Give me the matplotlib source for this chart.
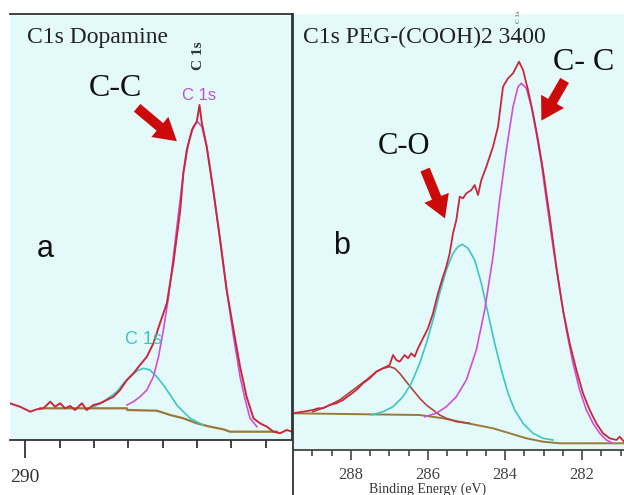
import matplotlib
matplotlib.use("Agg")
import matplotlib.pyplot as plt
from matplotlib.patches import FancyArrowPatch
from matplotlib.lines import Line2D

W, H = 624, 495

# ---------------- Panel a : C1s Dopamine ----------------
a_data_ev = [290.44, 290.15, 289.85, 289.66, 289.47, 289.27, 289.13, 288.98, 288.84, 288.69,
             288.55, 288.35, 288.21, 288.01, 287.82, 287.63, 287.43, 287.24, 287.04, 286.85,
             286.66, 286.46, 286.27, 286.08, 285.88, 285.69, 285.49, 285.40, 285.30, 285.15,
             285.01, 284.93, 284.86, 284.72, 284.53, 284.33, 284.14, 283.94, 283.75, 283.56,
             283.36, 283.17, 282.97, 282.78, 282.59, 282.39, 282.24]
a_data_i = [36.7, 33.3, 28.3, 30.7, 31.7, 38.3, 33.3, 36.7, 31.7, 34.0,
            30.0, 36.7, 30.0, 35.0, 36.7, 40.0, 43.3, 50.0, 60.0, 66.7,
            75.0, 83.3, 96.7, 116.7, 136.7, 176.7, 230.0, 266.7, 290.0, 310.0,
            318.3, 335.0, 316.7, 293.3, 250.0, 200.0, 150.0, 110.0, 73.3, 43.3,
            21.7, 16.7, 13.3, 8.3, 6.7, 10.0, 8.3]

a_cc_ev = [287.04, 286.85, 286.66, 286.46, 286.27, 286.12, 285.98, 285.83, 285.69, 285.54,
           285.40, 285.25, 285.11, 284.99, 284.86, 284.72, 284.53, 284.33, 284.14, 283.94,
           283.75, 283.60, 283.46, 283.26]
a_cc_i = [35.0, 38.3, 43.3, 50.0, 63.3, 83.3, 110.0, 143.3, 183.3, 226.7,
          266.7, 296.7, 313.3, 318.3, 313.3, 293.3, 250.0, 200.0, 150.0, 103.3,
          63.3, 40.0, 21.7, 13.3]

a_co_ev = [288.01, 287.72, 287.53, 287.33, 287.14, 286.95, 286.75, 286.56, 286.37, 286.17,
           285.98, 285.78, 285.59, 285.40, 285.20, 285.01, 284.82]
a_co_i = [33.3, 38.3, 43.3, 48.3, 56.7, 63.3, 69.0, 71.7, 70.0, 63.3,
          55.0, 45.0, 35.0, 28.3, 21.7, 18.3, 15.0]

a_bg_ev = [289.56, 287.04, 287.03, 286.17, 285.78, 285.40, 285.01, 284.62, 284.24, 284.04, 282.68]
a_bg_i = [31.7, 31.7, 30.0, 29.3, 25.0, 21.7, 16.7, 13.3, 10.7, 8.3, 8.3]

a_major_ticks = [290]
a_minor_ticks = [289, 288, 287, 286, 285, 284, 283]
a_tick_labels = ["290"]

# ---------------- Panel b : C1s PEG-(COOH)2 3400 ----------------
b_data_ev = [289.506, 289.247, 288.987, 288.857, 288.727, 288.554, 288.381, 288.208, 288.035, 287.861,
             287.688, 287.515, 287.342, 287.169, 286.996, 286.909, 286.822, 286.736, 286.606, 286.519,
             286.433, 286.346, 286.260, 286.130, 286.000, 285.870, 285.740, 285.610, 285.524, 285.437,
             285.351, 285.264, 285.177, 285.091, 285.004, 284.874, 284.788, 284.701, 284.615, 284.485,
             284.312, 284.182, 284.052, 283.922, 283.792, 283.636, 283.532, 283.403, 283.273, 283.143,
             283.013, 282.840, 282.667, 282.494, 282.320, 282.147, 281.974, 281.801, 281.628, 281.455,
             281.281, 281.108, 281.022, 280.909]
b_data_i = [36.7, 38.3, 40.0, 41.7, 41.7, 45.0, 46.7, 50.0, 55.0, 60.0,
            66.7, 71.7, 78.3, 81.7, 85.0, 95.0, 90.0, 88.3, 95.0, 91.7,
            96.7, 93.3, 101.7, 111.7, 121.7, 136.7, 156.7, 173.3, 183.3, 196.7,
            216.7, 230.0, 253.3, 251.7, 256.7, 260.0, 265.0, 255.0, 270.0, 283.3,
            303.3, 323.3, 363.3, 371.7, 376.7, 388.3, 380.0, 360.0, 336.7, 310.0,
            280.0, 233.3, 183.3, 140.0, 106.7, 80.0, 56.7, 40.0, 26.7, 16.7,
            11.7, 10.0, 13.3, 8.3]

b_cc_ev = [286.087, 285.784, 285.524, 285.264, 285.004, 284.745, 284.528, 284.312, 284.139, 283.965,
           283.792, 283.662, 283.576, 283.446, 283.316, 283.186, 283.056, 282.926, 282.753, 282.580,
           282.407, 282.234, 282.061, 281.887, 281.714, 281.541, 281.368, 281.195]
b_cc_i = [33.3, 36.7, 43.3, 53.3, 70.0, 100.0, 140.0, 193.3, 250.0, 300.0,
          343.3, 363.3, 366.7, 361.7, 343.3, 316.7, 286.7, 250.0, 203.3, 160.0,
          120.0, 86.7, 60.0, 40.0, 26.7, 16.7, 10.0, 6.7]

b_co_ev = [287.472, 287.169, 286.909, 286.649, 286.433, 286.216, 286.043, 285.870, 285.697, 285.524,
           285.351, 285.221, 285.108, 284.961, 284.788, 284.615, 284.442, 284.269, 284.095, 283.922,
           283.749, 283.532, 283.273, 283.013, 282.753]
b_co_i = [35.0, 38.3, 43.3, 53.3, 66.7, 86.7, 106.7, 130.0, 156.7, 180.0,
          196.7, 203.3, 205.7, 201.7, 190.0, 166.7, 136.7, 106.7, 80.0, 56.7,
          40.0, 26.7, 16.7, 11.7, 10.0]

b_cooh_ev = [288.987, 288.640, 288.294, 287.948, 287.602, 287.342, 287.169, 286.996, 286.866, 286.736,
             286.563, 286.390, 286.216, 286.043, 285.870, 285.697, 285.524, 285.264, 284.918]
b_cooh_i = [38.3, 43.3, 50.0, 60.0, 70.0, 78.3, 81.7, 83.3, 81.7, 76.7,
            68.3, 60.0, 51.7, 45.0, 40.0, 35.0, 31.7, 28.3, 26.7]

b_bg_ev = [289.506, 286.216, 285.610, 285.177, 284.745, 284.312, 283.879, 283.446, 283.013, 282.580, 280.909]
b_bg_i = [36.7, 35.0, 31.7, 28.3, 25.0, 21.7, 16.7, 11.7, 8.3, 6.7, 6.7]

b_major_ticks = [288, 286, 284, 282]
b_minor_ticks = [289, 288.5, 287.5, 287, 286.5, 285.5, 285, 284.5, 283.5, 283, 282.5, 281.5, 281]
b_tick_labels = ["288", "286", "284", "282"]

# ---------------- styles ----------------
BG = "#e3f9fa"
C_DATA = "#c8283a"
C_CC = "#d24ed8"
C_CO = "#3cc8c0"
C_BG = "#9a7a3a"
C_COOH = "#b0463c"
ARROW = "#cc0a0a"
SERIF = ["Liberation Serif", "DejaVu Serif"]
SANS = ["Liberation Sans", "DejaVu Sans"]

fig = plt.figure(figsize=(W / 100, H / 100), dpi=100)
fig.patch.set_facecolor("white")


def fx(px):
    return px / W


def fy(py):
    return 1 - py / H


def ftext(px, py, s, **kw):
    fig.text(fx(px), fy(py), s, **kw)


def farrow(p0, p1):
    ar = FancyArrowPatch((fx(p0[0]), fy(p0[1])), (fx(p1[0]), fy(p1[1])),
                         transform=fig.transFigure,
                         arrowstyle="simple,head_length=0.8,head_width=0.95,tail_width=0.36",
                         mutation_scale=20, color=ARROW, lw=0, zorder=10)
    fig.patches.append(ar)


# ---- panel a axes ----
axa = fig.add_axes([fx(10), 55 / H, 282 / W, 426 / H])
axa.set_facecolor(BG)
axa.set_xlim(290.44, 282.24)
axa.set_ylim(0, 426)
axa.plot(a_bg_ev, a_bg_i, color=C_BG, lw=1.6)
axa.plot(a_co_ev, a_co_i, color=C_CO, lw=1.2)
axa.plot(a_cc_ev, a_cc_i, color=C_CC, lw=1.2)
axa.plot(a_data_ev, a_data_i, color=C_DATA, lw=1.4)
axa.spines["left"].set_visible(False)
for s in ["top", "bottom", "right"]:
    axa.spines[s].set_color("#333333")
    axa.spines[s].set_linewidth(1.3)
axa.set_yticks([])
axa.set_xticks(a_major_ticks)
axa.set_xticklabels(a_tick_labels, fontfamily=SERIF, fontsize=14, color="#333333")
axa.set_xticks(a_minor_ticks, minor=True)
axa.tick_params(axis="x", which="major", direction="out", length=13, width=1.3,
                color="#333333", pad=8)
axa.tick_params(axis="x", which="minor", direction="out", length=6, width=1.3,
                color="#333333")

# ---- panel b axes ----
axb = fig.add_axes([fx(294), 45 / H, 330 / W, 436 / H])
axb.set_facecolor(BG)
axb.set_xlim(289.48, 280.91)
axb.set_ylim(0, 436)
axb.plot(b_bg_ev, b_bg_i, color=C_BG, lw=1.4)
axb.plot(b_cooh_ev, b_cooh_i, color=C_COOH, lw=1.2)
axb.plot(b_co_ev, b_co_i, color=C_CO, lw=1.2)
axb.plot(b_cc_ev, b_cc_i, color=C_CC, lw=1.2)
axb.plot(b_data_ev, b_data_i, color=C_DATA, lw=1.3)
for s in ["top", "right", "left"]:
    axb.spines[s].set_visible(False)
axb.spines["bottom"].set_color("#444444")
axb.spines["bottom"].set_linewidth(1.3)
axb.set_yticks([])
axb.set_xticks(b_major_ticks)
axb.set_xticklabels(b_tick_labels, fontfamily=SERIF, fontsize=12, color="#444444")
axb.set_xticks(b_minor_ticks, minor=True)
axb.tick_params(axis="x", which="major", direction="out", length=7, width=1.2,
                color="#444444", pad=5)
axb.tick_params(axis="x", which="minor", direction="out", length=4, width=1.2,
                color="#444444")

# divider line between the panels
fig.add_artist(Line2D([fx(292.8), fx(292.8)], [fy(14), fy(495)], transform=fig.transFigure,
                      color="#333333", lw=1.3))

# ---- texts panel a ----
ftext(27, 37, "C1s Dopamine", fontfamily=SERIF, fontsize=17, color="#222222", va="center", ha="left")
ftext(115, 88, "C-C", fontfamily=SERIF, fontsize=23, color="#111111", va="center", ha="center")
ftext(198, 56, "C 1s", fontfamily=SERIF, fontsize=11, color="#333333", va="center", ha="center",
      rotation=90, fontweight="bold")
ftext(199, 95, "C 1s", fontfamily=SANS, fontsize=12, color="#c050d0", va="center", ha="center")
ftext(143, 339, "C 1s", fontfamily=SANS, fontsize=13, color=C_CO, va="center", ha="center")
ftext(45, 249, "a", fontfamily=SANS, fontsize=22, color="#111111", va="center", ha="center")
farrow((135, 106), (179, 143))

# ---- texts panel b ----
ftext(303, 37, "C1s PEG-(COOH)2 3400", fontfamily=SERIF, fontsize=17, color="#222222",
      va="center", ha="left")
ftext(519, 17, "C 1s", fontfamily=SERIF, fontsize=5, color="#555555", va="center", ha="center",
      rotation=90)
ftext(584, 62, "C- C", fontfamily=SERIF, fontsize=23, color="#111111", va="center", ha="center")
ftext(404, 147, "C-O", fontfamily=SERIF, fontsize=22, color="#111111", va="center", ha="center")
ftext(342, 246, "b", fontfamily=SANS, fontsize=22, color="#111111", va="center", ha="center")
farrow((424, 167), (446, 221))
farrow((566, 78), (540, 123))
ftext(428, 489, "Binding Energy (eV)", fontfamily=SERIF, fontsize=10, color="#333333",
      va="center", ha="center")

fig.savefig("out.png", dpi=100, facecolor="white")
